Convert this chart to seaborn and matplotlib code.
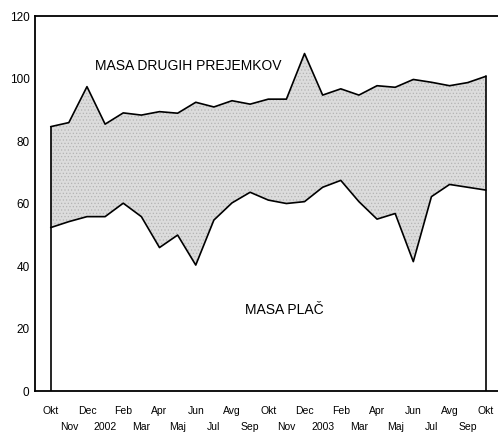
import numpy as np
import pandas as pd
import matplotlib
matplotlib.use('Agg')
import matplotlib.pyplot as plt
import seaborn as sns

# monthly values, Okt 2001 - Okt 2003
top_labels = ['Okt', 'Dec', 'Feb', 'Apr', 'Jun', 'Avg', 'Okt',
              'Dec', 'Feb', 'Apr', 'Jun', 'Avg', 'Okt']
bottom_labels = ['Nov', '2002', 'Mar', 'Maj', 'Jul', 'Sep',
                 'Nov', '2003', 'Mar', 'Maj', 'Jul', 'Sep']

masa_plac = [52.3, 54.2, 55.8, 55.8, 60.1, 55.8, 45.9, 49.9, 40.3, 54.7, 60.2, 63.6,
             61.1, 60.0, 60.6, 65.2, 67.4, 60.6, 55.0, 56.8, 41.4, 62.2, 66.1, 65.2,
             64.3]
masa_skupaj = [84.6, 85.9, 97.4, 85.4, 89.0, 88.3, 89.4, 88.9, 92.4, 90.9, 92.9, 91.8,
               93.4, 93.4, 108.0, 94.7, 96.7, 94.7, 97.7, 97.2, 99.7, 98.8, 97.7, 98.7,
               100.7]

df = pd.DataFrame({'idx': np.arange(len(masa_plac)),
                   'plac': masa_plac, 'skupaj': masa_skupaj})

sns.set_style('white')
plt.rcParams['font.family'] = ['Liberation Sans', 'DejaVu Sans']
plt.rcParams['text.color'] = 'black'
plt.rcParams['xtick.color'] = 'black'
plt.rcParams['ytick.color'] = 'black'
plt.rcParams['hatch.color'] = '#b4b4b4'
plt.rcParams['hatch.linewidth'] = 0.5

fig = plt.figure(figsize=(4.98, 4.32), dpi=100)
ax = fig.add_axes([0.0703, 0.0949, 0.93, 0.868])

# stacked areas: white for wages, dotted grey for the rest
ax.fill_between(df['idx'], 0, df['plac'], facecolor='white', edgecolor='none', zorder=1)
ax.fill_between(df['idx'], df['plac'], df['skupaj'], facecolor='#dcdcdc',
                hatch='.....', edgecolor='#b4b4b4', linewidth=0, zorder=1)

sns.lineplot(data=df, x='idx', y='plac', color='black', linewidth=1.2, ax=ax, zorder=3)
sns.lineplot(data=df, x='idx', y='skupaj', color='black', linewidth=1.2, ax=ax, zorder=3)
n = len(df) - 1
ax.plot([0, 0], [0, masa_skupaj[0]], color='black', linewidth=1.2, zorder=3)
ax.plot([n, n], [0, masa_skupaj[-1]], color='black', linewidth=1.2, zorder=3)

ax.text(7.57, 104, 'MASA DRUGIH PREJEMKOV', fontsize=10, ha='center', va='center')
ax.text(12.9, 25.9, 'MASA PLAČ', fontsize=10, ha='center', va='center')

ax.set_xlim(-0.866, 24.68)
ax.set_ylim(0, 120)
ax.set_yticks(range(0, 121, 20))
ax.tick_params(axis='y', length=0, pad=4, labelsize=8.5)

ax.set_xticks(np.arange(0, len(df), 2))
ax.set_xticklabels(top_labels)
ax.set_xticks(np.arange(1, len(df), 2), minor=True)
ax.set_xticklabels(bottom_labels, minor=True)
ax.tick_params(axis='x', which='major', length=0, pad=11, labelsize=7.5)
ax.tick_params(axis='x', which='minor', length=0, pad=22, labelsize=7.5)

ax.set_xlabel('')
ax.set_ylabel('')
for side in ['left', 'top', 'bottom']:
    ax.spines[side].set_color('black')
    ax.spines[side].set_linewidth(1.3)
ax.spines['right'].set_visible(False)

fig.savefig('out.png', dpi=100)
